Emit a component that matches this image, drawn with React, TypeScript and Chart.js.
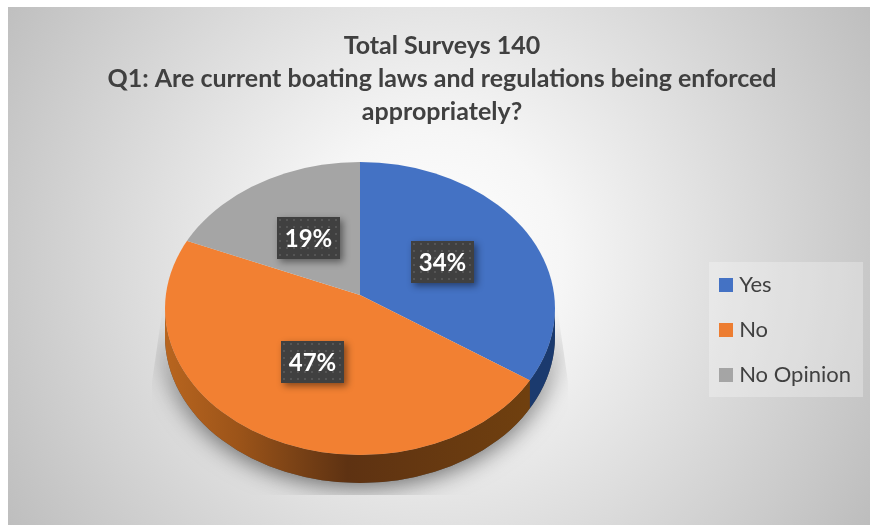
import React, { useEffect, useRef } from "react";
import { Chart, registerables } from "chart.js";

Chart.register(...registerables);

const titleLines = [
  "Total Surveys 140",
  "Q1: Are current boating laws and regulations being enforced",
  "appropriately?",
];
const categories = ["Yes", "No", "No Opinion"];
const shares = [34, 47, 19];
const sliceColors = ["#4472C4", "#F28032", "#A5A5A5"];
const legendColors = ["#4472C4", "#ED7D31", "#A5A5A5"];

const FONT = "Lato";
const TEXT = "#404040";

// 3D projection of the disc, in canvas pixels
const ELL = { cx: 352, cy: 301.5, rx: 195, ry: 146.5, depth: 28 };
const APEX = { x: 352, y: 288 };
const REACH = { x: 240, y: 190 };
const LABEL_DIST = [94, 101, 90];
const LABEL_NUDGE = [
  [0, 3],
  [-2, -4],
  [-1, 2],
];

const edgeX = (angle: number) => {
  const dx = Math.cos(angle) * REACH.x;
  const dy = Math.sin(angle) * REACH.y;
  const ox = (APEX.x - ELL.cx) / ELL.rx;
  const oy = (APEX.y - ELL.cy) / ELL.ry;
  const ux = dx / ELL.rx;
  const uy = dy / ELL.ry;
  const a = ux * ux + uy * uy;
  const b = 2 * (ox * ux + oy * uy);
  const c = ox * ox + oy * oy - 1;
  const t = (-b + Math.sqrt(b * b - 4 * a * c)) / (2 * a);
  return APEX.x + t * dx;
};

const extrusionPath = (ctx: CanvasRenderingContext2D) => {
  const { cx, cy, rx, ry, depth } = ELL;
  ctx.beginPath();
  ctx.ellipse(cx, cy + depth, rx, ry, 0, 0, Math.PI, false);
  ctx.lineTo(cx - rx, cy);
  ctx.ellipse(cx, cy, rx, ry, 0, Math.PI, 0, true);
  ctx.closePath();
};

const makeDots = (ctx: CanvasRenderingContext2D) => {
  const c = document.createElement("canvas");
  c.width = 7;
  c.height = 7;
  const p = c.getContext("2d")!;
  p.fillStyle = "#404040";
  p.fillRect(0, 0, 7, 7);
  p.fillStyle = "#555555";
  p.fillRect(2, 2, 2, 2);
  return ctx.createPattern(c, "repeat")!;
};

const swatch = (color: string) => {
  const c = document.createElement("canvas");
  c.width = 14;
  c.height = 14;
  const p = c.getContext("2d")!;
  p.fillStyle = color;
  p.fillRect(0, 0, 14, 14);
  return c;
};

const pie3d = {
  id: "pie3d",
  afterLayout(chart: any) {
    chart.titleBlock.left += 7;
  },
  beforeDraw(chart: any) {
    const { ctx, width, height } = chart;
    ctx.save();
    const g = ctx.createRadialGradient(427, 250, 0, 427, 250, 510);
    g.addColorStop(0, "#ffffff");
    g.addColorStop(0.25, "#f6f6f6");
    g.addColorStop(1, "#bdbdbd");
    ctx.fillStyle = g;
    ctx.fillRect(0, 0, width, height);
    ctx.fillStyle = "rgba(255,255,255,0.28)";
    ctx.fillRect(701, 255, 154, 135);
    ctx.restore();
  },
  beforeDatasetsDraw(chart: any) {
    const { ctx } = chart;
    const arcs = chart.getDatasetMeta(0).data;
    const { cx, cy, rx, ry, depth } = ELL;

    // ground shadow
    ctx.save();
    ctx.beginPath();
    ctx.moveTo(cx - rx, 285);
    ctx.lineTo(cx + rx, 285);
    ctx.lineTo(cx + rx + 13, 375);
    ctx.lineTo(cx + rx + 13, 488);
    ctx.lineTo(cx - rx - 13, 488);
    ctx.lineTo(cx - rx - 13, 375);
    ctx.closePath();
    ctx.clip();
    ctx.shadowColor = "rgba(0,0,0,0.6)";
    ctx.shadowBlur = 24;
    ctx.shadowOffsetY = 3;
    ctx.fillStyle = "#555";
    extrusionPath(ctx);
    ctx.fill();
    ctx.restore();

    // side wall
    const split = edgeX(arcs[0].endAngle);
    ctx.save();
    extrusionPath(ctx);
    ctx.clip();
    const side = ctx.createLinearGradient(cx - rx, 0, split, 0);
    side.addColorStop(0, "#b8651f");
    side.addColorStop(0.2, "#9c5419");
    side.addColorStop(0.35, "#7c4316");
    side.addColorStop(0.5, "#5e3212");
    side.addColorStop(1, "#70400f");
    ctx.fillStyle = side;
    ctx.fillRect(cx - rx, cy - 10, split - cx + rx, ry + depth + 20);
    ctx.fillStyle = "#1b3a6e";
    ctx.fillRect(split, cy - 10, cx + rx - split, ry + depth + 20);
    ctx.restore();

    // top face: library arcs seen through the projection
    const c = arcs[0];
    const s = c.outerRadius;
    ctx.save();
    ctx.beginPath();
    ctx.ellipse(cx, cy, rx, ry, 0, 0, Math.PI * 2);
    ctx.clip();
    ctx.translate(APEX.x, APEX.y);
    ctx.scale(REACH.x / s, REACH.y / s);
    ctx.translate(-c.x, -c.y);
  },
  afterDatasetsDraw(chart: any) {
    const { ctx } = chart;
    ctx.restore();
    const arcs = chart.getDatasetMeta(0).data;
    const dots = makeDots(ctx);
    arcs.forEach((arc: any, i: number) => {
      const mid = (arc.startAngle + arc.endAngle) / 2;
      const r = LABEL_DIST[i] / REACH.x;
      const px = APEX.x + Math.cos(mid) * r * REACH.x + LABEL_NUDGE[i][0];
      const py = APEX.y + Math.sin(mid) * r * REACH.y + LABEL_NUDGE[i][1];
      const w = 63;
      const h = 42;
      const x = Math.round(px - w / 2);
      const y = Math.round(py - h / 2);
      ctx.save();
      ctx.shadowColor = "rgba(0,0,0,0.45)";
      ctx.shadowBlur = 7;
      ctx.shadowOffsetX = 3;
      ctx.shadowOffsetY = 3;
      ctx.fillStyle = "#404040";
      ctx.fillRect(x, y, w, h);
      ctx.restore();
      ctx.save();
      ctx.translate(x, y);
      ctx.fillStyle = dots;
      ctx.fillRect(0, 0, w, h);
      ctx.restore();
      ctx.save();
      ctx.fillStyle = "#ffffff";
      ctx.font = `bold 24px ${FONT}`;
      ctx.textAlign = "center";
      ctx.textBaseline = "middle";
      ctx.fillText(`${shares[i]}%`, x + w / 2, y + h / 2 + 1);
      ctx.restore();
    });
  },
};

export default function App() {
  const ref = useRef<HTMLCanvasElement>(null);
  useEffect(() => {
    const baseLabels = (Chart as any).overrides.pie.plugins.legend.labels.generateLabels;
    const chart = new Chart(ref.current!, {
      type: "pie",
      data: {
        labels: categories,
        datasets: [
          {
            data: shares,
            backgroundColor: sliceColors,
            borderWidth: 0,
            clip: false,
          } as any,
        ],
      },
      options: {
        responsive: false,
        animation: false,
        events: [],
        layout: { padding: { left: 8, right: 9, top: 22, bottom: 116 } },
        plugins: {
          title: {
            display: true,
            text: titleLines,
            color: TEXT,
            font: { family: FONT, size: 25, weight: "bold", lineHeight: 1.32 },
            padding: { top: 0, bottom: 10 },
          },
          legend: {
            position: "right",
            align: "end",
            labels: {
              color: TEXT,
              font: { family: FONT, size: 22 },
              usePointStyle: true,
              boxHeight: 14,
              pointStyleWidth: 4,
              padding: 23,
              generateLabels: (c: any) =>
                baseLabels(c).map((item: any, i: number) => ({
                  ...item,
                  pointStyle: swatch(legendColors[i]),
                })),
            },
          },
          tooltip: { enabled: false },
        },
      },
      plugins: [pie3d],
    });
    return () => chart.destroy();
  }, []);
  return (
    <div style={{ position: "absolute", left: 8, top: 7, width: 862, height: 518 }}>
      <canvas ref={ref} width={862} height={518} style={{ display: "block" }} />
    </div>
  );
}
